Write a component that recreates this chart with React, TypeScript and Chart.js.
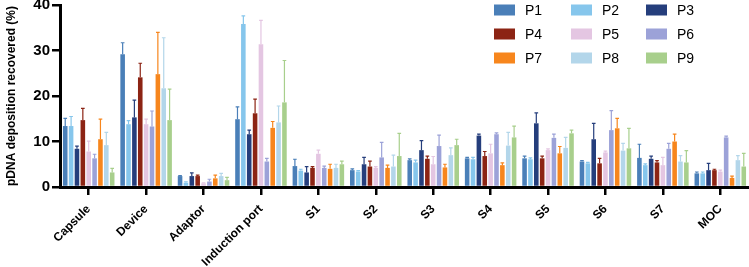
import React, { useEffect, useRef } from "react";
import { Chart, registerables } from "chart.js";

Chart.register(...registerables);

const categories = ["Capsule", "Device", "Adaptor", "Induction port", "S1", "S2", "S3", "S4", "S5", "S6", "S7", "MOC"];
const seriesNames = ["P1", "P2", "P3", "P4", "P5", "P6", "P7", "P8", "P9"];
const seriesColors = ["#4a7fb8", "#86c6ec", "#253e7c", "#8c2414", "#e4c6e2", "#9ca2d8", "#f7861d", "#b3d6ea", "#a8cf8c"];

// mean values per series (one entry per category)
const P1 = [13.4, 29.2, 2.4, 14.9, 4.6, 3.7, 5.9, 6.3, 6.3, 5.6, 6.4, 3.0];
const P2 = [13.4, 13.8, 0.95, 35.8, 3.6, 3.4, 5.4, 6.1, 6.1, 5.2, 4.8, 3.0];
const P3 = [8.4, 15.3, 2.4, 11.6, 3.2, 5.0, 8.1, 11.3, 14.0, 10.5, 6.2, 3.7];
const P4 = [14.7, 24.1, 2.4, 16.2, 4.2, 4.5, 6.2, 6.8, 6.3, 5.2, 5.4, 3.7];
const P5 = [7.8, 13.8, 0.8, 31.4, 7.3, 4.2, 5.0, 7.4, 8.1, 7.6, 4.8, 3.4];
const P6 = [6.3, 13.3, 1.2, 5.6, 4.2, 6.5, 9.0, 11.6, 10.8, 12.5, 8.4, 10.9];
const P7 = [10.5, 24.8, 1.9, 13.0, 4.0, 4.2, 4.3, 4.8, 7.4, 12.9, 10.0, 2.0];
const P8 = [9.2, 21.7, 2.4, 14.2, 4.2, 4.5, 7.0, 9.1, 8.6, 8.0, 5.6, 5.9];
const P9 = [3.2, 14.7, 1.5, 18.6, 5.0, 6.8, 9.2, 10.9, 11.8, 8.5, 5.4, 4.5];

// upper error (SD) per series
const E1 = [1.7, 2.5, 0.1, 2.7, 1.5, 0.3, 0.3, 0.2, 0.5, 0.2, 3.0, 0.3];
const E2 = [2.1, 0.8, 0.2, 1.8, 0.3, 0.2, 0.5, 0.4, 0.3, 0.2, 0.3, 0.3];
const E3 = [0.6, 3.8, 0.7, 0.9, 1.3, 1.5, 2.1, 0.3, 2.3, 3.5, 0.6, 1.5];
const E4 = [2.6, 3.1, 0.2, 3.1, 0.3, 1.2, 0.6, 1.0, 0.5, 1.1, 0.4, 0.2];
const E5 = [2.3, 1.1, 0.1, 5.2, 0.8, 0.3, 1.7, 2.0, 0.3, 0.3, 1.7, 0.3];
const E6 = [0.9, 3.4, 0.5, 0.7, 0.4, 3.3, 2.4, 0.3, 0.8, 4.3, 1.2, 0.3];
const E7 = [4.4, 9.2, 0.7, 1.4, 1.0, 0.6, 0.7, 0.5, 1.5, 2.2, 1.6, 0.4];
const E8 = [2.8, 11.1, 0.6, 3.6, 0.8, 2.5, 1.6, 2.9, 2.3, 1.6, 1.3, 1.0];
const E9 = [0.9, 6.8, 0.6, 9.2, 0.7, 5.0, 1.3, 2.5, 0.7, 4.4, 2.6, 2.9];

const seriesValues = [P1, P2, P3, P4, P5, P6, P7, P8, P9];
const seriesErrors = [E1, E2, E3, E4, E5, E6, E7, E8, E9];
const yTicks = [0, 10, 20, 30, 40];

const errorBarPlugin = {
  id: "errorBars",
  afterDatasetsDraw(chart: any) {
    const ctx = chart.ctx;
    const yScale = chart.scales.y;
    chart.data.datasets.forEach((ds: any, i: number) => {
      const meta = chart.getDatasetMeta(i);
      meta.data.forEach((el: any, j: number) => {
        const v = ds.data[j];
        const e = ds.errors[j];
        const yTop = yScale.getPixelForValue(v + e);
        const x = el.x;
        const half = el.width * 0.4;
        ctx.save();
        ctx.strokeStyle = ds.backgroundColor;
        ctx.lineWidth = 1.2;
        ctx.beginPath();
        ctx.moveTo(x, el.y);
        ctx.lineTo(x, yTop);
        ctx.moveTo(x - half, yTop);
        ctx.lineTo(x + half, yTop);
        ctx.stroke();
        ctx.restore();
      });
    });
  },
};

const gridLegendPlugin = {
  id: "gridLegend",
  afterDraw(chart: any) {
    const ctx = chart.ctx;
    const colX = [494, 571, 646];
    const rowY = [10, 34, 58];
    chart.data.datasets.forEach((ds: any, i: number) => {
      const col = i % 3;
      const row = Math.floor(i / 3);
      const bx = colX[col];
      const by = rowY[row];
      ctx.save();
      ctx.fillStyle = ds.backgroundColor;
      ctx.fillRect(bx, by - 5.5, 21, 11);
      ctx.fillStyle = "#000";
      ctx.font = "14px 'Liberation Sans', Arial, sans-serif";
      ctx.textBaseline = "middle";
      ctx.textAlign = "left";
      ctx.fillText(ds.label, bx + 31, by + 1);
      ctx.restore();
    });
  },
};

export default function App() {
  const ref = useRef<HTMLCanvasElement | null>(null);
  useEffect(() => {
    if (!ref.current) return;
    const chart = new Chart(ref.current, {
      type: "bar",
      data: {
        labels: categories,
        datasets: seriesNames.map((name, i) => ({
          label: name,
          data: seriesValues[i],
          errors: seriesErrors[i],
          backgroundColor: seriesColors[i],
          borderWidth: 0,
          categoryPercentage: 0.92,
          barPercentage: 0.78,
        })) as any,
      },
      options: {
        animation: false,
        responsive: false,
        maintainAspectRatio: false,
        layout: { padding: { left: 0, right: 0, top: 0, bottom: 0 } },
        plugins: {
          legend: { display: false },
          tooltip: { enabled: false },
        },
        scales: {
          x: {
            grid: {
              display: true,
              drawOnChartArea: false,
              drawTicks: true,
              offset: false,
              tickLength: 8,
              lineWidth: 2.5,
              color: "#000",
            },
            border: { display: true, width: 3, color: "#000" },
            ticks: {
              autoSkip: false,
              maxRotation: 45,
              minRotation: 45,
              padding: 7,
              color: "#000",
              font: { family: "'Liberation Sans', Arial, sans-serif", size: 12, weight: "bold" },
            },
            afterFit: (s: any) => {
              s.height = 80;
              s.paddingLeft = 0;
              s.paddingRight = 0;
            },
          },
          y: {
            min: 0,
            max: 40,
            afterBuildTicks: (s: any) => {
              s.ticks = yTicks.map((v) => ({ value: v }));
            },
            grid: {
              display: true,
              drawOnChartArea: false,
              drawTicks: true,
              tickLength: 8,
              lineWidth: 2.5,
              color: "#000",
            },
            border: { display: true, width: 3, color: "#000" },
            ticks: {
              padding: 2,
              color: "#000",
              font: { family: "'Liberation Sans', Arial, sans-serif", size: 15, weight: "bold" },
            },
            title: {
              display: true,
              text: "pDNA deposition recovered (%)",
              color: "#000",
              padding: { top: 4, bottom: 0 },
              font: { family: "'Liberation Sans', Arial, sans-serif", size: 12, weight: "bold" },
            },
            afterFit: (s: any) => {
              s.width = 60;
              s.paddingTop = 5;
              s.paddingBottom = 0;
            },
          },
        },
      },
      plugins: [errorBarPlugin, gridLegendPlugin],
    });
    return () => chart.destroy();
  }, []);
  return (
    <div style={{ position: "fixed", left: 0, top: 0, width: 749, height: 267, background: "#fff" }}>
      <canvas ref={ref} width={749} height={267} style={{ width: 749, height: 267, display: "block" }} />
    </div>
  );
}
